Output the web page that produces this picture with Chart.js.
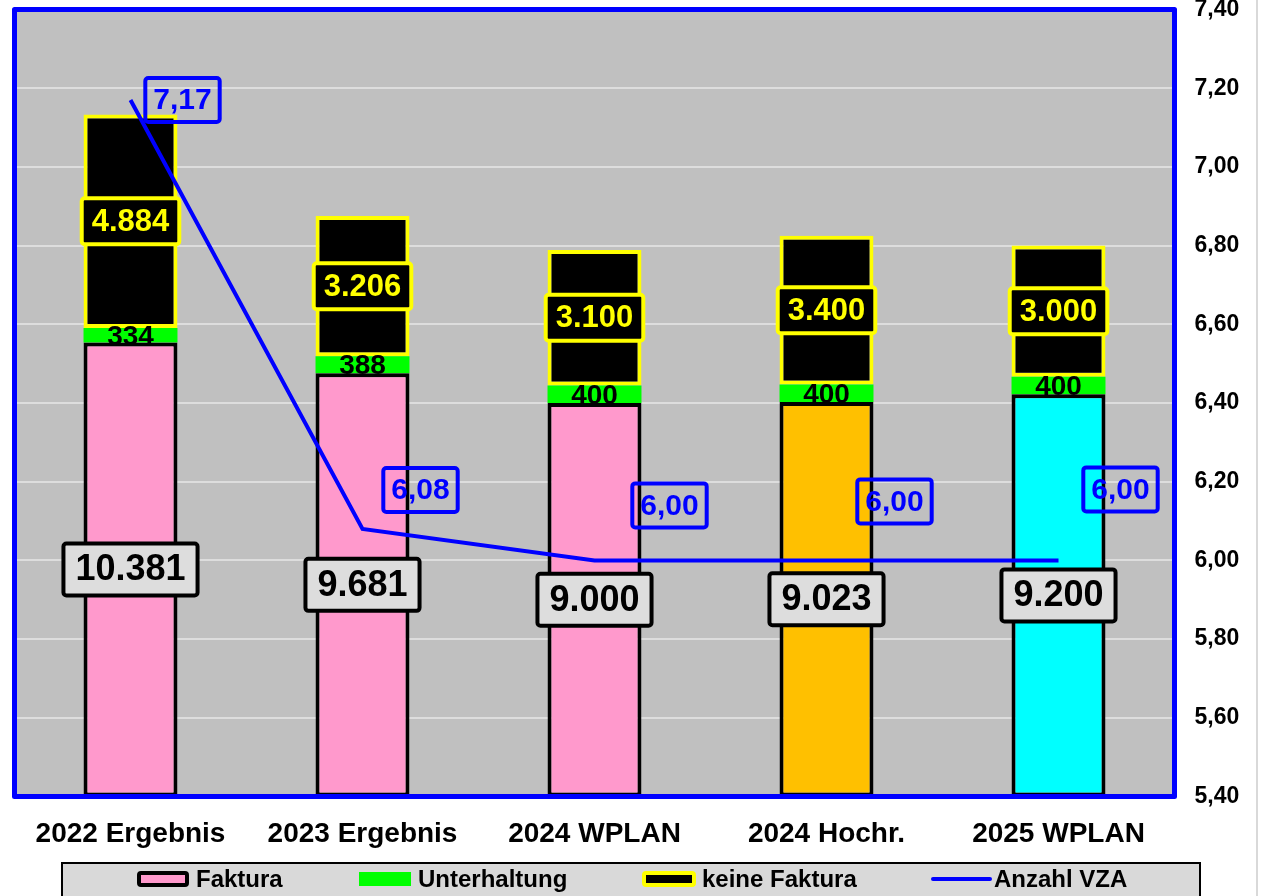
<!DOCTYPE html>
<html>
<head>
<meta charset="utf-8">
<script src="https://cdn.jsdelivr.net/npm/chart.js@4/dist/chart.umd.min.js"></script>
<style>
  html, body { margin: 0; padding: 0; background: #fff; }
  canvas { display: block; }
</style>
</head>
<body>
<canvas id="chart" width="1269" height="896"></canvas>
<script>
// Data
const categories = ['2022 Ergebnis', '2023 Ergebnis', '2024 WPLAN', '2024 Hochr.', '2025 WPLAN'];
const faktura = [10381, 9681, 9000, 9023, 9200];
const unterhaltung = [334, 388, 400, 400, 400];
const keineFaktura = [4884, 3206, 3100, 3400, 3000];
const anzahlVZA = [7.17, 6.08, 6.00, 6.00, 6.00];
const vzaTicks = [5.4, 5.6, 5.8, 6.0, 6.2, 6.4, 6.6, 6.8, 7.0, 7.2, 7.4];

// Colours
const fakturaColors = ['#FF99CC', '#FF99CC', '#FF99CC', '#FFC000', '#00FFFF'];
const FONT = '"Liberation Sans", Arial, sans-serif';

// label placement for the VZA boxes (offset from the line point)
const vzaLabelOffsets = [[52, 0], [58, -39], [75, -55], [68, -59], [62, -71]];
// legend item x positions (swatch start, swatch end, text start)
const legendSlots = [[137, 189, 196], [359, 411, 418], [642, 696, 702], [933, 990, 994]];

const fmtDE = (v, d) => v.toLocaleString('de-DE', { minimumFractionDigits: d, maximumFractionDigits: d });

function roundRect(ctx, x, y, w, h, r) {
  ctx.beginPath();
  ctx.moveTo(x + r, y);
  ctx.arcTo(x + w, y, x + w, y + h, r);
  ctx.arcTo(x + w, y + h, x, y + h, r);
  ctx.arcTo(x, y + h, x, y, r);
  ctx.arcTo(x, y, x + w, y, r);
  ctx.closePath();
}

function labelBox(ctx, text, cx, cy, opts) {
  ctx.font = 'bold ' + opts.size + 'px ' + FONT;
  const w = ctx.measureText(text).width + opts.padX * 2;
  const h = opts.h;
  roundRect(ctx, cx - w / 2, cy - h / 2, w, h, 3);
  if (opts.fill) {
    ctx.fillStyle = opts.fill;
    ctx.fill();
  }
  ctx.lineWidth = 4;
  ctx.strokeStyle = opts.stroke;
  ctx.stroke();
  ctx.fillStyle = opts.color;
  ctx.textAlign = 'center';
  ctx.textBaseline = 'middle';
  ctx.fillText(text, cx, cy + 1);
}

const plotFrame = {
  id: 'plotFrame',
  beforeDraw(chart) {
    const { ctx, chartArea: a } = chart;
    ctx.save();
    ctx.fillStyle = '#FFFFFF';
    ctx.fillRect(0, 0, chart.width, chart.height);
    ctx.fillStyle = '#C0C0C0';
    ctx.fillRect(a.left, a.top, a.right - a.left, a.bottom - a.top);
    // page edge line on the right
    ctx.fillStyle = '#D9D9D9';
    ctx.fillRect(1256, 0, 2, chart.height);
    ctx.restore();
  },
  afterDatasetsDraw(chart) {
    const { ctx, chartArea: a } = chart;
    ctx.save();
    ctx.strokeStyle = '#0000FF';
    ctx.lineWidth = 5;
    ctx.lineJoin = 'round';
    ctx.strokeRect(a.left, a.top, a.right - a.left, a.bottom - a.top);

    const barMeta = chart.getDatasetMeta(0);
    const greenMeta = chart.getDatasetMeta(1);
    const blackMeta = chart.getDatasetMeta(2);
    const lineMeta = chart.getDatasetMeta(3);

    // Unterhaltung values
    greenMeta.data.forEach((el, i) => {
      ctx.font = 'bold 28px ' + FONT;
      ctx.fillStyle = '#000';
      ctx.textAlign = 'center';
      ctx.textBaseline = 'middle';
      ctx.fillText(fmtDE(unterhaltung[i], 0), el.x, (el.y + el.base) / 2 + 2);
    });

    // keine Faktura values
    blackMeta.data.forEach((el, i) => {
      labelBox(ctx, fmtDE(keineFaktura[i], 0), el.x, (el.y + el.base) / 2,
        { size: 31, padX: 10, h: 46, fill: '#000', stroke: '#FFFF00', color: '#FFFF00' });
    });

    // Faktura values
    barMeta.data.forEach((el, i) => {
      labelBox(ctx, fmtDE(faktura[i], 0), el.x, (el.y + el.base) / 2,
        { size: 36, padX: 12, h: 52, fill: '#DDDDDD', stroke: '#000', color: '#000' });
    });

    // VZA values
    lineMeta.data.forEach((pt, i) => {
      const [dx, dy] = vzaLabelOffsets[i];
      labelBox(ctx, fmtDE(anzahlVZA[i], 2), pt.x + dx, pt.y + dy,
        { size: 30, padX: 8, h: 44, fill: null, stroke: '#0000FF', color: '#0000FF' });
    });
    ctx.restore();
  },
  afterDraw(chart) {
    const { ctx } = chart;
    ctx.save();
    ctx.fillStyle = '#D9D9D9';
    ctx.fillRect(62, 863, 1138, 34);
    ctx.strokeStyle = '#000';
    ctx.lineWidth = 2;
    ctx.strokeRect(62, 863, 1138, 34);

    const cy = 879;
    chart.data.datasets.forEach((ds, i) => {
      const [x0, x1, tx] = legendSlots[i];
      ctx.lineJoin = 'round';
      if (ds.type === 'line') {
        ctx.strokeStyle = ds.borderColor;
        ctx.lineWidth = 4;
        ctx.lineCap = 'round';
        ctx.beginPath();
        ctx.moveTo(x0, cy);
        ctx.lineTo(x1, cy);
        ctx.stroke();
      } else {
        const fill = Array.isArray(ds.backgroundColor) ? ds.backgroundColor[0] : ds.backgroundColor;
        if (ds.borderWidth) {
          roundRect(ctx, x0 + 2, cy - 6, x1 - x0 - 4, 12, 2);
          ctx.fillStyle = fill;
          ctx.fill();
          ctx.lineWidth = 4;
          ctx.strokeStyle = ds.borderColor;
          ctx.stroke();
        } else {
          ctx.fillStyle = fill;
          ctx.fillRect(x0, cy - 7, x1 - x0, 14);
        }
      }
      ctx.font = 'bold 24px ' + FONT;
      ctx.fillStyle = '#000';
      ctx.textAlign = 'left';
      ctx.textBaseline = 'middle';
      ctx.fillText(ds.label, tx, cy + 1);
    });
    ctx.restore();
  }
};

const barCommon = {
  type: 'bar',
  yAxisID: 'y',
  order: 1,
  barPercentage: 0.405,
  categoryPercentage: 1.0,
  borderSkipped: false
};

new Chart(document.getElementById('chart'), {
  data: {
    labels: categories,
    datasets: [
      { ...barCommon, label: 'Faktura', data: faktura, backgroundColor: fakturaColors, borderColor: '#000000', borderWidth: 4 },
      { ...barCommon, label: 'Unterhaltung', data: unterhaltung, backgroundColor: '#00FF00', borderWidth: 0 },
      { ...barCommon, label: 'keine Faktura', data: keineFaktura, backgroundColor: '#000000', borderColor: '#FFFF00', borderWidth: 4 },
      {
        type: 'line', label: 'Anzahl VZA', data: anzahlVZA, yAxisID: 'y1', order: 0,
        borderColor: '#0000FF', backgroundColor: '#0000FF', borderWidth: 4,
        pointRadius: 0, tension: 0, fill: false
      }
    ]
  },
  options: {
    responsive: false,
    animation: false,
    layout: { padding: { left: 14.5, top: 9.5, right: 0, bottom: 0 } },
    plugins: { legend: { display: false }, tooltip: { enabled: false } },
    scales: {
      x: {
        stacked: true,
        grid: { display: false },
        border: { display: false },
        ticks: { color: '#000', font: { family: FONT, size: 28, weight: 'bold' }, padding: 13 },
        afterFit: (s) => { s.height = 99.5; s.paddingLeft = 0; s.paddingRight = 0; }
      },
      y: {
        stacked: true,
        display: false,
        min: 0,
        max: 18000
      },
      y1: {
        position: 'right',
        min: 5.4,
        max: 7.4,
        afterBuildTicks: (s) => { s.ticks = vzaTicks.map(v => ({ value: v })); },
        grid: { color: '#DDDDDD', lineWidth: 2, drawTicks: false },
        border: { display: false },
        ticks: {
          color: '#000',
          padding: 20,
          font: { family: FONT, size: 23, weight: 'bold' },
          callback: (v) => fmtDE(v, 2)
        },
        afterFit: (s) => { s.width = 94.5; s.paddingTop = 0; s.paddingBottom = 0; }
      }
    }
  },
  plugins: [plotFrame]
});
</script>
</body>
</html>
